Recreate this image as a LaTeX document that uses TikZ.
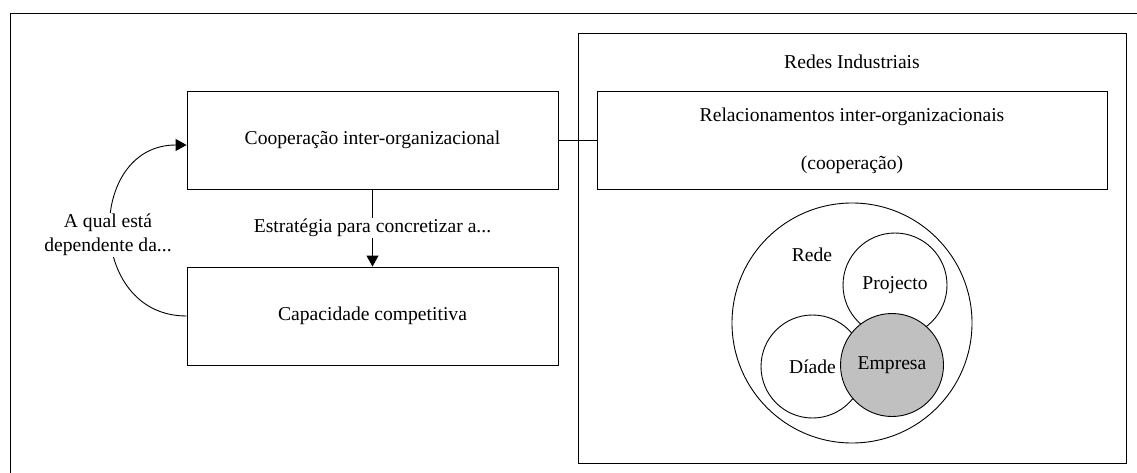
\documentclass[tikz,border=0pt]{standalone}
\usepackage{fontspec}
\setmainfont{Liberation Serif}
\usetikzlibrary{arrows.meta}
\definecolor{empgray}{HTML}{C0C0C0}
\begin{document}
\begin{tikzpicture}[x=1pt,y=-1pt,
  line width=0.9pt,
  lbl/.style={font=\fontsize{19.6}{24}\selectfont},
  box/.style={draw, rectangle, inner sep=0pt},
  circ/.style={draw, circle, inner sep=0pt, lbl},
  tip/.style={-{Triangle[length=11pt,width=12pt]}},
  gap/.style={lbl, fill=white, inner sep=1.5pt}
]
\useasboundingbox (0,0) rectangle (1137,473);

% outer frame (top and left edges)
\draw (10,473) -- (10,13) -- (1137,13);

% left column
\node[box, lbl, minimum width=371pt, minimum height=98pt] (coop) at (372.5,140) {Cooperação inter-organizacional};
\node[box, lbl, minimum width=371pt, minimum height=98pt] (cap) at (372.5,316) {Capacidade competitiva};

\draw[tip] (coop.south) -- node[gap] (estr) {Estratégia para concretizar a...} (cap.north);

\draw[tip] (cap.west) .. controls +(-101,0) and +(-101,0) .. ([yshift=-5pt]coop.west);
\node[gap, align=center] (dep) at (108,235) {A qual está\\dependente da...};

% industrial networks panel
\node[box, minimum width=548pt, minimum height=430pt] (redes) at (852,248) {};
\node[lbl] (redestit) at (852,62) {Redes Industriais};
\node[box, minimum width=510pt, minimum height=98pt] (rel) at (852,140) {};
\node[lbl] (relt) at (852,117) {Relacionamentos inter-organizacionais};
\node[lbl] (relc) at (852,165) {(cooperação)};

\draw (coop.east) -- (rel.west);

% nested circles
\node[circ, minimum size=240pt] (rede) at (852,323) {};
\node[lbl] (redet) at (812,255) {Rede};
\node[circ, minimum size=103pt] (diade) at (812.5,366.5) {Díade};
\node[circ, minimum size=104pt] (proj) at (895,285) {Projecto};
\node[circ, fill=empgray, minimum size=103pt] (emp) at (892,365) {Empresa};
\end{tikzpicture}
\end{document}
